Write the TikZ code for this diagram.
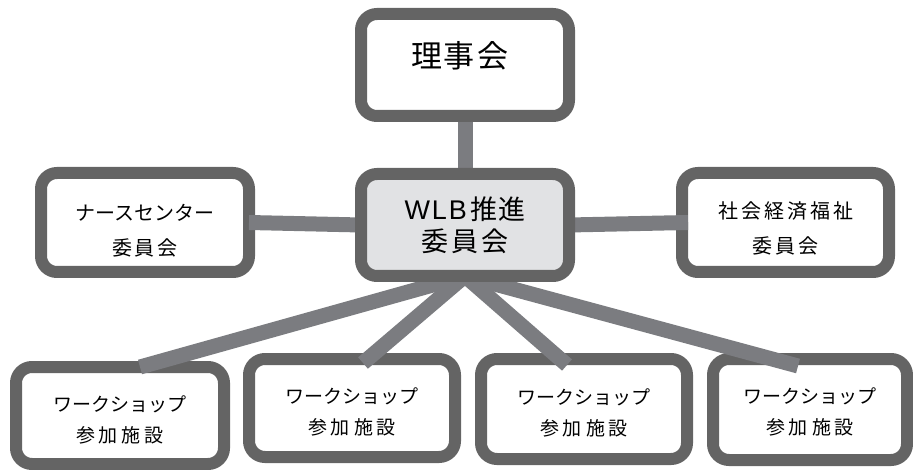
\documentclass[tikz,border=0pt]{standalone}
\usepackage{fontspec}
\newfontfamily\jp{Noto Sans CJK JP}
\newfontfamily\lat{Liberation Sans}
\usetikzlibrary{calc}
\pgfdeclarelayer{front}
\pgfsetlayers{main,front}
\definecolor{bordergray}{HTML}{646464}
\definecolor{linkgray}{HTML}{7B7C80}
\definecolor{centerfill}{HTML}{E1E2E4}
\newcommand\vmove[2]{\raisebox{#1}[\height][\depth]{#2}}
\begin{document}
\begin{tikzpicture}[x=1pt,y=-1pt,
  box/.style={draw=bordergray, line width=12pt, rounded corners=16pt, fill=white,
    outer sep=0pt, inner sep=0pt, align=center, font=\jp},
  link/.style={draw=linkgray, line width=15pt},
  big/.style={font=\jp\fontsize{31}{36}\selectfont},
  mid/.style={font=\jp\fontsize{27}{32}\selectfont},
  cmt/.style={font=\jp\fontsize{20}{35}\selectfont},
  ws/.style={font=\jp\fontsize{19}{31}\selectfont, minimum width=206pt}
]
\useasboundingbox (0,0) rectangle (913,470);

\begin{pgfonlayer}{front}
\node[box, mid, fill=centerfill, minimum width=208pt, minimum height=102pt] (wlb) at (465,225)
  {{\lat W\kern2ptL\kern2ptB}\kern3pt推\kern1.5pt進\\委\kern3pt員\kern3pt会};
\end{pgfonlayer}

\node[box, big, minimum width=208pt, minimum height=102pt] (riji) at (465,65)
  {\vmove{9pt}{理\kern2pt事\kern2pt会\kern11pt}};

\node[box, cmt, minimum width=208pt, minimum height=99pt] (nurse) at (145,222.5)
  {\vmove{-8pt}{ナースセンター}\\\vmove{-8pt}{委\kern2.5pt員\kern2.5pt会}};

\node[box, cmt, minimum width=207pt, minimum height=99pt] (social) at (785.5,222.5)
  {\vmove{-6pt}{社\kern3pt会\kern3pt経\kern3pt済\kern3pt福\kern3pt祉}\\\vmove{-6pt}{委\kern3pt員\kern3pt会}};

\node[box, ws, minimum width=208pt, minimum height=97pt] (ws1) at (120,415.5)
  {\vmove{-4.5pt}{ワークショップ}\\\vmove{-4.5pt}{参\kern4pt加\kern4pt施\kern4pt設}};
\node[box, ws, minimum height=98pt] (ws2) at (352,408)
  {\vmove{-4pt}{ワークショップ}\\\vmove{-4pt}{参\kern4pt加\kern4pt施\kern4pt設}};
\node[box, ws, minimum height=100pt] (ws3) at (584,409)
  {\vmove{-3.5pt}{ワークショップ}\\\vmove{-3.5pt}{参\kern4pt加\kern4pt施\kern4pt設}};
\node[box, ws, minimum width=194pt, minimum height=101pt] (ws4) at (810,409.5)
  {\vmove{-2.5pt}{ワークショップ}\\\vmove{-2.5pt}{参\kern4pt加\kern4pt施\kern4pt設}};

% connectors
\draw[link, shorten <=6pt] (riji.south) -- (wlb.north);
\draw[link] (nurse.east) -- (wlb.west);
\draw[link] (wlb.east) -- ([xshift=6pt]social.west);
\draw[link] (wlb.south) -- ([xshift=20pt]ws1.north);
\draw[link] (wlb.south) -- ([xshift=11pt,yshift=-4pt]ws2.north);
\draw[link] (wlb.south) -- ([xshift=-17pt,yshift=-6pt]ws3.north);
\draw[link] (wlb.south) -- ([xshift=-12pt,yshift=-7pt]ws4.north);
\end{tikzpicture}
\end{document}
